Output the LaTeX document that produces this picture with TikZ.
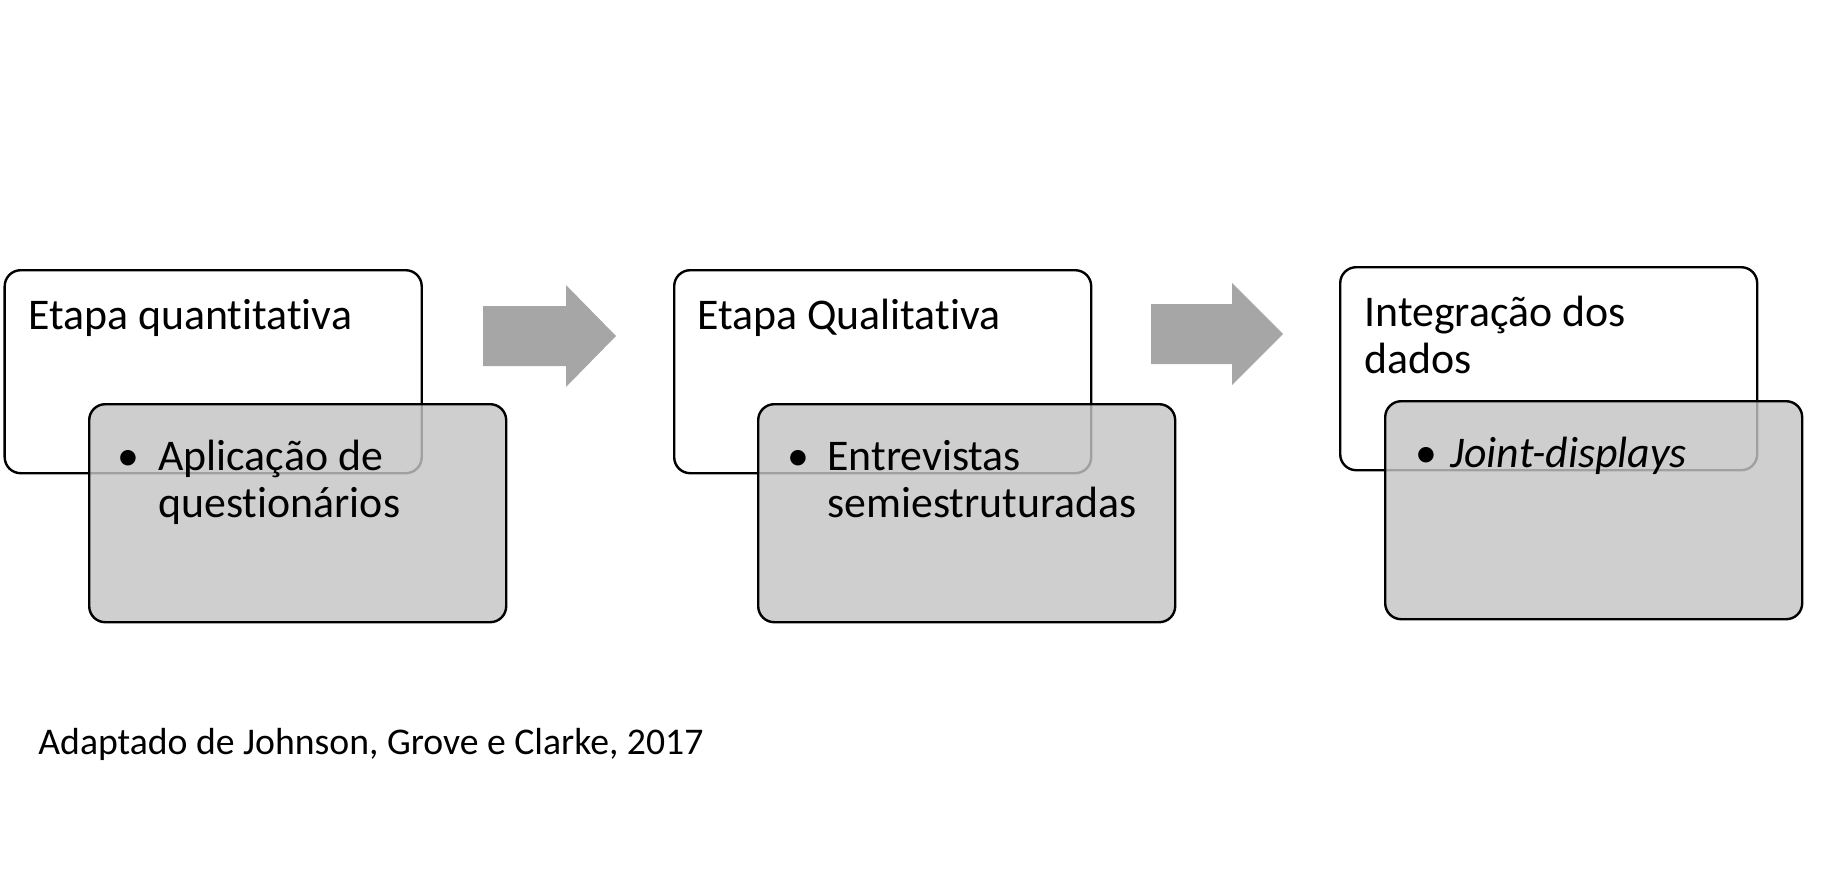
\documentclass[tikz,border=0pt]{standalone}
\usepackage{fontspec}
\setmainfont{Carlito}[Ligatures=NoCommon]
\usetikzlibrary{positioning}
\definecolor{itemgray}{RGB}{196,196,196}
\definecolor{arrowgray}{RGB}{166,166,166}
\tikzset{
  stagebox/.style={draw, line width=1.2pt, rounded corners=8pt, fill=white,
    minimum width=208.5pt, minimum height=101.5pt, inner sep=0pt, anchor=north west},
  itembox/.style={stagebox, fill=itemgray, fill opacity=0.82, minimum height=109pt},
  stagetext/.style={font=\fontsize{21.9}{23.5}\selectfont, inner sep=0pt, anchor=base west, align=left},
  bulletmark/.style={font=\fontsize{21.9}{23.5}\selectfont, inner sep=0pt, anchor=base},
  sourcetext/.style={font=\fontsize{18.85}{22}\selectfont, inner sep=0pt, anchor=base west},
  blockarrow/.style={fill=arrowgray}
}

\begin{document}
\begin{tikzpicture}[x=0.5pt,y=-0.5pt]
\useasboundingbox (0,0) rectangle (1844,889);
\node[stagebox] (quant) at (3.5,269) {};
\node[stagebox] (quali) at (673,269) {};
\node[stagebox] (integ) at (1339,266) {};
\node[itembox] (quantitem) at (88,403) {};
\node[itembox] (qualiitem) at (757,403) {};
\node[itembox] (integitem) at (1384,400) {};
\fill[blockarrow] (483,306) -- (566,306) -- (566,285) -- (616,336) -- (566,387) -- (566,366) -- (483,366) -- cycle;
\fill[blockarrow] (1151,304) -- (1232,304) -- (1232,283) -- (1283,334) -- (1232,385) -- (1232,364) -- (1151,364) -- cycle;
% multi-line nodes sit on their last baseline
\node[stagetext] (quanttitle) at (28,329) {Etapa quantitativa};
\node[stagetext] (qualititle) at (697,329) {Etapa Qualitativa};
\node[stagetext] (integtitle) at (1364,373) {Integração dos\\dados};
\node[bulletmark] (quantbullet) at (128,470) {•};
\node[stagetext] (quanttext) at (158,517) {Aplicação de\\questionários};
\node[bulletmark] (qualibullet) at (798,470) {•};
\node[stagetext] (qualitext) at (827,517) {Entrevistas\\semiestruturadas};
\node[bulletmark] (integbullet) at (1426,467) {•};
\node[stagetext] (integtext) at (1450,467) {\itshape Joint-displays};
\node[sourcetext] (source) at (38,754) {Adaptado de Johnson, Grove e Clarke, 2017};
\end{tikzpicture}
\end{document}
